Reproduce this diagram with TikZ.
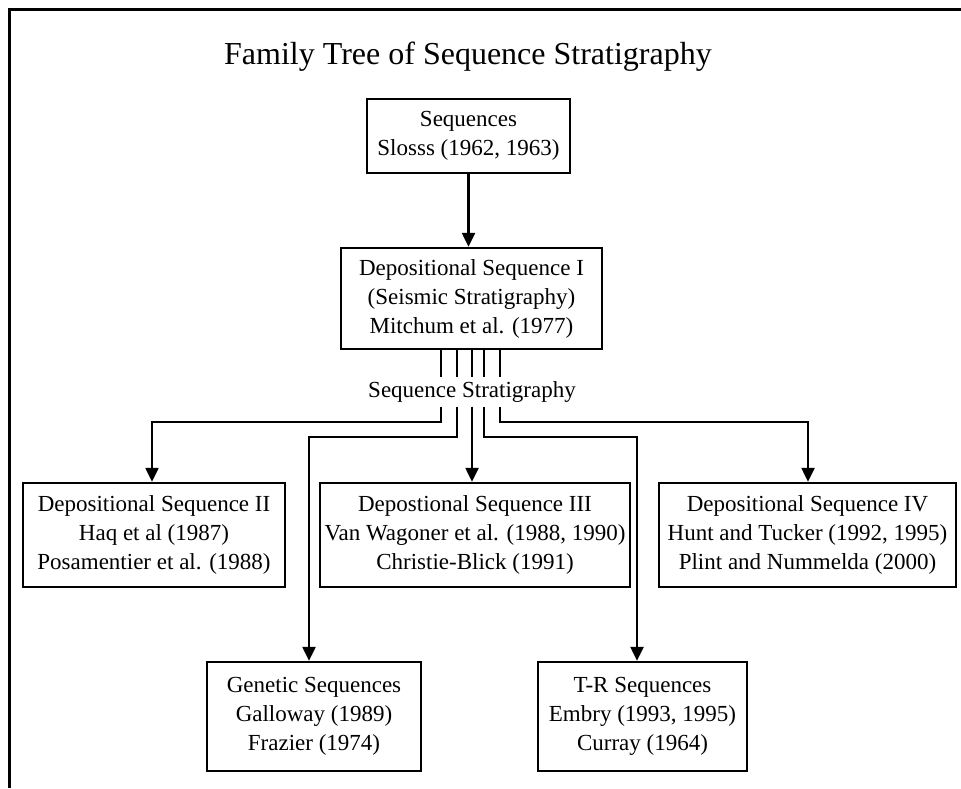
\documentclass[tikz,border=0pt]{standalone}
\usepackage{fontspec}
\setmainfont{Liberation Serif}
\usetikzlibrary{arrows.meta}
\begin{document}
\begin{tikzpicture}[x=1pt,y=-1pt,
  box/.style={draw, line width=2.5pt, align=center, inner sep=0pt, font=\fontsize{23}{29}\selectfont},
  conn/.style={line width=2.5pt},
  arr/.style={conn, -{Triangle[length=14pt,width=13pt]}},
  lbl/.style={inner sep=4pt, font=\fontsize{23}{28}\selectfont},
  frame/.style={line width=3pt}
  ]
\useasboundingbox (0,0) rectangle (961,788);
\draw[frame] (9.5,788) -- (9.5,9.5) -- (961,9.5);

\node[font=\fontsize{32}{36}\selectfont, inner sep=0pt] (title) at (468,57) {Family Tree of Sequence Stratigraphy};

\node[box, minimum width=203pt, minimum height=74pt] (b1) at (468.5,136) {Sequences\\Slosss (1962, 1963)};
\node[box, minimum width=261pt, minimum height=101pt] (b2) at (471.5,298.5) {Depositional Sequence I\\(Seismic Stratigraphy)\\Mitchum et al. (1977)};
\node[box, minimum width=262pt, minimum height=104pt] (b3) at (154,535) {Depositional Sequence II\\Haq et al (1987)\\Posamentier et al. (1988)};
\node[box, minimum width=310pt, minimum height=104pt] (b4) at (475,535) {Depostional Sequence III\\Van Wagoner et al. (1988, 1990)\\Christie-Blick (1991)};
\node[box, minimum width=297pt, minimum height=104pt] (b5) at (807.5,535) {Depositional Sequence IV\\Hunt and Tucker (1992, 1995)\\Plint and Nummelda (2000)};
\node[box, minimum width=214pt, minimum height=109pt] (b6) at (314,716.5) {Genetic Sequences\\Galloway (1989)\\Frazier (1974)};
\node[box, minimum width=209pt, minimum height=109pt] (b7) at (642.5,716.5) {T-R Sequences\\Embry (1993, 1995)\\Curray (1964)};

\node[lbl] (lab) at (472,392) {Sequence Stratigraphy};

\coordinate (t1) at (441,422);
\coordinate (t2) at (457,437);
\coordinate (t3) at (472,437);
\coordinate (t4) at (484,437);
\coordinate (t5) at (500,422);
\coordinate (c1) at (152,422);
\coordinate (c2) at (309,437);
\coordinate (c4) at (637,437);
\coordinate (c5) at (808,422);

\draw[arr] (b1.south) -- (b1.south |- b2.north);

\foreach \t in {t1,t2,t3,t4,t5}
  \draw[conn] (b2.south -| \t) -- (lab.north -| \t);

\draw[arr] (lab.south -| t1) -- (t1) -- (c1) -- (c1 |- b3.north);
\draw[arr] (lab.south -| t2) -- (t2) -- (c2) -- (c2 |- b6.north);
\draw[arr] (lab.south -| t3) -- (t3 |- b4.north);
\draw[arr] (lab.south -| t4) -- (t4) -- (c4) -- (c4 |- b7.north);
\draw[arr] (lab.south -| t5) -- (t5) -- (c5) -- (c5 |- b5.north);
\end{tikzpicture}
\end{document}
